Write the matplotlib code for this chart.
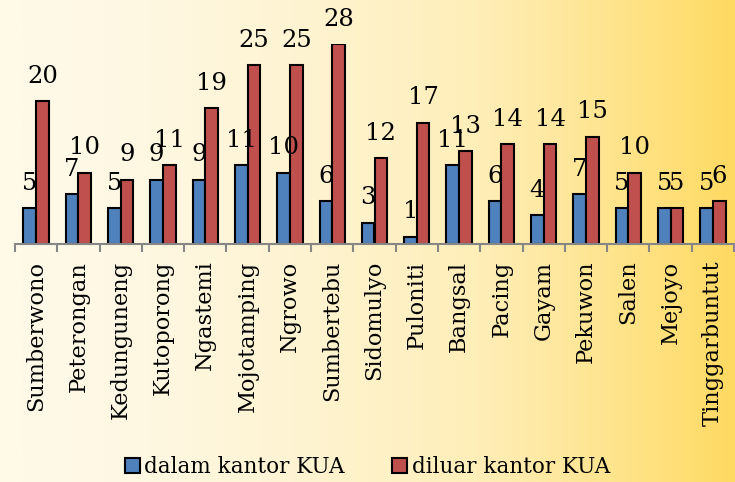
import numpy as np
import matplotlib.pyplot as plt
from matplotlib.colors import LinearSegmentedColormap

desa = ['Sumberwono', 'Peterongan', 'Kedunguneng', 'Kutoporong', 'Ngastemi',
        'Mojotamping', 'Ngrowo', 'Sumbertebu', 'Sidomulyo', 'Puloniti',
        'Bangsal', 'Pacing', 'Gayam', 'Pekuwon', 'Salen', 'Mejoyo',
        'Tinggarbuntut']
dalam = [5, 7, 5, 9, 9, 11, 10, 6, 3, 1, 11, 6, 4, 7, 5, 5, 5]
diluar = [20, 10, 9, 11, 19, 25, 25, 28, 12, 17, 13, 14, 14, 15, 10, 5, 6]

plt.rcParams['font.family'] = ['DejaVu Serif']

fig = plt.figure(figsize=(7.35, 4.82), dpi=100)

# background gradient, light cream on the left to yellow on the right
bg = fig.add_axes([0, 0, 1, 1], zorder=-1)
grad = np.linspace(0, 1, 256) ** 1.6
cmap = LinearSegmentedColormap.from_list('bg', ['#fff9e8', '#feeeb8', '#ffda62'])
bg.imshow(grad[None, :], aspect='auto', cmap=cmap, extent=[0, 1, 0, 1])
bg.set_axis_off()

ax = fig.add_axes([15 / 735, 238 / 482, 719 / 735, 200 / 482])
ax.patch.set_alpha(0)

x = np.arange(len(desa))
w = 0.3
b1 = ax.bar(x - w / 2, dalam, w, color='#4f81bd', edgecolor='black', lw=1.5,
            label='dalam kantor KUA')
b2 = ax.bar(x + w / 2, diluar, w, color='#c0504d', edgecolor='black', lw=1.5,
            label='diluar kantor KUA')

for bars, vals in [(b1, dalam), (b2, diluar)]:
    for r, v in zip(bars, vals):
        ax.annotate(str(v), (r.get_x() + r.get_width() / 2, v),
                    xytext=(0, 18), textcoords='offset points',
                    ha='center', va='center', fontsize=17.5)

ax.set_xlim(-0.5, len(desa) - 0.5)
ax.set_ylim(0, 28)
ax.set_yticks([])
for s in ['top', 'right', 'left']:
    ax.spines[s].set_visible(False)
ax.spines['bottom'].set_color('#868686')
ax.spines['bottom'].set_linewidth(1.5)

ax.set_xticks(x)
ax.set_xticklabels(desa, rotation=90, fontsize=16.2)
ax.tick_params(axis='x', which='major', length=0, pad=12)
ax.set_xticks(np.arange(len(desa) + 1) - 0.5, minor=True)
ax.tick_params(axis='x', which='minor', length=6, width=1.5, color='#868686')

fig.legend(handles=[b1, b2], loc='center', bbox_to_anchor=(0.5, 15 / 482),
           ncol=2, frameon=False, fontsize=15.5, handlelength=0.7,
           handleheight=0.7, handletextpad=0.2, columnspacing=2.2)

fig.savefig('out.png', dpi=100)
